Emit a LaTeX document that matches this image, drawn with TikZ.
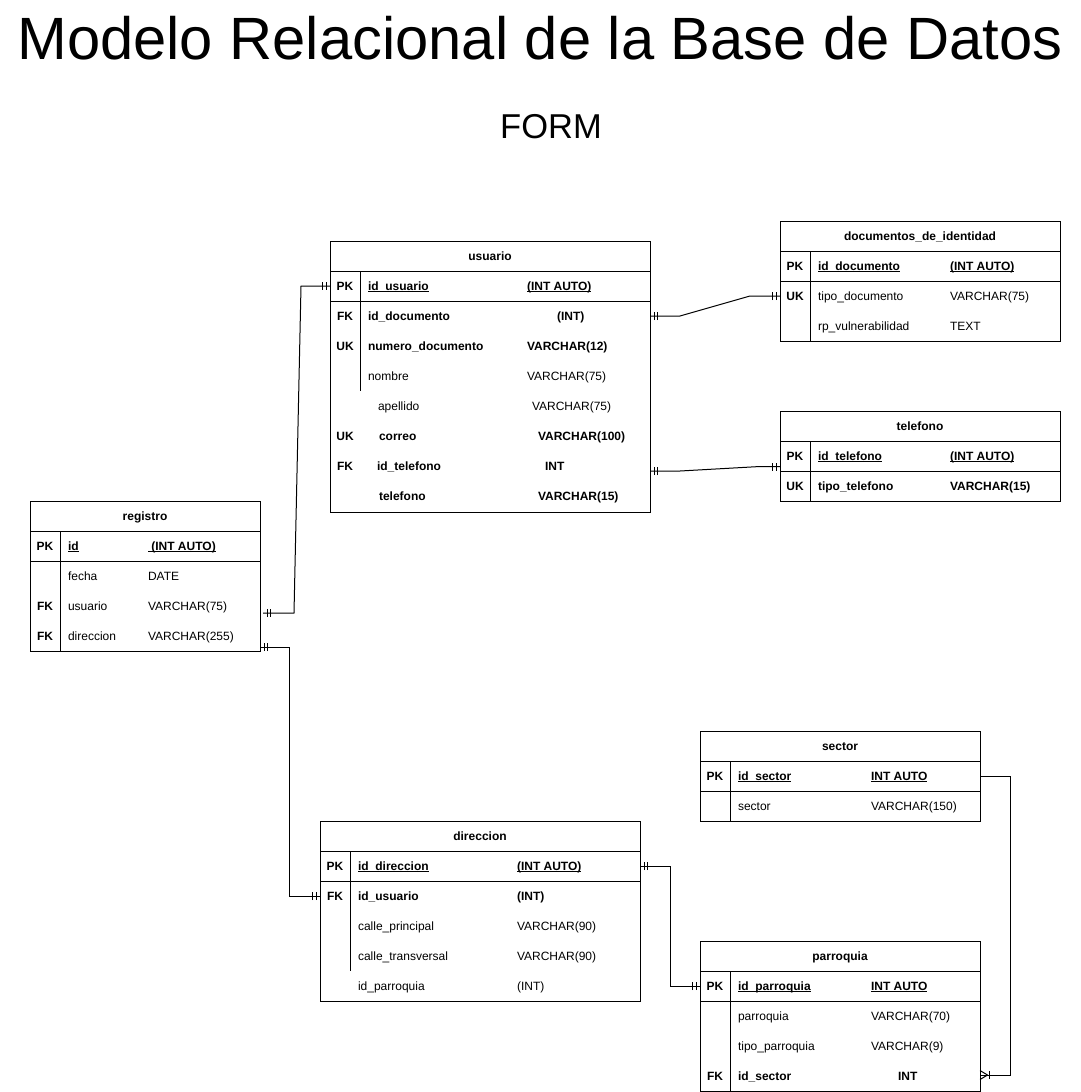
\documentclass[tikz,border=0pt]{standalone}
\usepackage{fontspec}
\setmainfont{Liberation Sans}
\usetikzlibrary{calc,decorations.markings}
\newsavebox\ulbox
\newcommand\ulx[1]{\sbox\ulbox{#1}\rlap{\rule[-2pt]{\wd\ulbox}{0.9pt}}\usebox\ulbox}
\tikzset{
  ln/.style={line width=1pt},
  tbl/.style={draw, line width=1pt, anchor=north west, inner sep=0pt, outer sep=0pt},
  txt/.style={inner sep=0pt, outer sep=0pt, anchor=west, text height=8.6pt, text depth=0pt, font=\fontsize{12}{14}\selectfont},
  b/.style={font=\bfseries\fontsize{12}{14}\selectfont},
  key/.style={txt, anchor=center, b},
  hdr/.style={key},
  mk/.style={line width=1pt, solid},
  rel/.style={line width=1pt},
  one start/.style={postaction={decorate, decoration={markings,
      mark=at position 4pt with {\draw[mk] (0,-4pt) -- (0,4pt);},
      mark=at position 7.5pt with {\draw[mk] (0,-4pt) -- (0,4pt);}}}},
  one end/.style={postaction={decorate, decoration={markings,
      mark=at position -4pt with {\draw[mk] (0,-4pt) -- (0,4pt);},
      mark=at position -7.5pt with {\draw[mk] (0,-4pt) -- (0,4pt);}}}},
  many end/.style={postaction={decorate, decoration={markings,
      mark=at position -9pt with {\draw[mk] (0,-4pt) -- (0,4pt);
        \draw[mk] (1.5pt,0) -- (9pt,4.5pt); \draw[mk] (1.5pt,0) -- (9pt,-4.5pt);}}}}
}
\begin{document}
\begin{tikzpicture}[x=1pt,y=-1pt]
\useasboundingbox (0,0) rectangle (1080,1092);

% titles
\node[inner sep=0pt, anchor=base, font=\fontsize{59.7}{64}\selectfont] (title) at (540,59) {Modelo Relacional de la Base de Datos};
\node[inner sep=0pt, anchor=base, font=\fontsize{34.5}{38}\selectfont] (form) at (551,138) {FORM};

% ---------------- usuario
\node[tbl, minimum width=320pt, minimum height=271pt] (usuario) at (330,241) {};
\draw[ln] (330,271) -- (650,271);
\draw[ln] (330,301) -- (650,301);
\draw[ln] (360,271) -- (360,391);
\node[hdr] (u-h) at (490,256) {usuario};
\node[key] (u-k1) at (345,286) {PK};
\node[txt,b] (u-n1) at (368,286) {\ulx{id\_usuario}};
\node[txt,b] (u-t1) at (527,286) {\ulx{(INT AUTO)}};
\node[key] (u-k2) at (345,316) {FK};
\node[txt,b] (u-n2) at (368,316) {id\_documento};
\node[txt,b] (u-t2) at (557,316) {(INT)};
\node[key] (u-k3) at (345,346) {UK};
\node[txt,b] (u-n3) at (368,346) {numero\_documento};
\node[txt,b] (u-t3) at (527,346) {VARCHAR(12)};
\node[txt] (u-n4) at (368,376) {nombre};
\node[txt] (u-t4) at (527,376) {VARCHAR(75)};
\node[txt] (u-n5) at (378,406) {apellido};
\node[txt] (u-t5) at (532,406) {VARCHAR(75)};
\node[key] (u-k6) at (345,436) {UK};
\node[txt,b] (u-n6) at (379,436) {correo};
\node[txt,b] (u-t6) at (538,436) {VARCHAR(100)};
\node[key] (u-k7) at (345,466) {FK};
\node[txt,b] (u-n7) at (377,466) {id\_telefono};
\node[txt,b] (u-t7) at (545,466) {INT};
\node[txt,b] (u-n8) at (379,496) {telefono};
\node[txt,b] (u-t8) at (538,496) {VARCHAR(15)};

% ---------------- documentos_de_identidad
\node[tbl, minimum width=280pt, minimum height=120pt] (docs) at (780,221) {};
\draw[ln] (780,251) -- (1060,251);
\draw[ln] (780,281) -- (1060,281);
\draw[ln] (810,251) -- (810,341);
\node[hdr] (dc-h) at (920,236) {documentos\_de\_identidad};
\node[key] (dc-k1) at (795,266) {PK};
\node[txt,b] (dc-n1) at (818,266) {\ulx{id\_documento}};
\node[txt,b] (dc-t1) at (950,266) {\ulx{(INT AUTO)}};
\node[key] (dc-k2) at (795,296) {UK};
\node[txt] (dc-n2) at (818,296) {tipo\_documento};
\node[txt] (dc-t2) at (950,296) {VARCHAR(75)};
\node[txt] (dc-n3) at (818,326) {rp\_vulnerabilidad};
\node[txt] (dc-t3) at (950,326) {TEXT};

% ---------------- telefono
\node[tbl, minimum width=280pt, minimum height=90pt] (tel) at (780,411) {};
\draw[ln] (780,441) -- (1060,441);
\draw[ln] (780,471) -- (1060,471);
\draw[ln] (810,441) -- (810,501);
\node[hdr] (t-h) at (920,426) {telefono};
\node[key] (t-k1) at (795,456) {PK};
\node[txt,b] (t-n1) at (818,456) {\ulx{id\_telefono}};
\node[txt,b] (t-t1) at (950,456) {\ulx{(INT AUTO)}};
\node[key] (t-k2) at (795,486) {UK};
\node[txt,b] (t-n2) at (818,486) {tipo\_telefono};
\node[txt,b] (t-t2) at (950,486) {VARCHAR(15)};

% ---------------- registro
\node[tbl, minimum width=230pt, minimum height=150pt] (registro) at (30,501) {};
\draw[ln] (30,531) -- (260,531);
\draw[ln] (30,561) -- (260,561);
\draw[ln] (60,531) -- (60,651);
\node[hdr] (r-h) at (145,516) {registro};
\node[key] (r-k1) at (45,546) {PK};
\node[txt,b] (r-n1) at (68,546) {\ulx{id}};
\node[txt,b] (r-t1) at (148,546) {\ulx{\ (INT AUTO)}};
\node[txt] (r-n2) at (68,576) {fecha};
\node[txt] (r-t2) at (148,576) {DATE};
\node[key] (r-k3) at (45,606) {FK};
\node[txt] (r-n3) at (68,606) {usuario};
\node[txt] (r-t3) at (148,606) {VARCHAR(75)};
\node[key] (r-k4) at (45,636) {FK};
\node[txt] (r-n4) at (68,636) {direccion};
\node[txt] (r-t4) at (148,636) {VARCHAR(255)};

% ---------------- direccion
\node[tbl, minimum width=320pt, minimum height=180pt] (direccion) at (320,821) {};
\draw[ln] (320,851) -- (640,851);
\draw[ln] (320,881) -- (640,881);
\draw[ln] (350,851) -- (350,971);
\node[hdr] (d-h) at (480,836) {direccion};
\node[key] (d-k1) at (335,866) {PK};
\node[txt,b] (d-n1) at (358,866) {\ulx{id\_direccion}};
\node[txt,b] (d-t1) at (517,866) {\ulx{(INT AUTO)}};
\node[key] (d-k2) at (335,896) {FK};
\node[txt,b] (d-n2) at (358,896) {id\_usuario};
\node[txt,b] (d-t2) at (517,896) {(INT)};
\node[txt] (d-n3) at (358,926) {calle\_principal};
\node[txt] (d-t3) at (517,926) {VARCHAR(90)};
\node[txt] (d-n4) at (358,956) {calle\_transversal};
\node[txt] (d-t4) at (517,956) {VARCHAR(90)};
\node[txt] (d-n5) at (358,986) {id\_parroquia};
\node[txt] (d-t5) at (517,986) {(INT)};

% ---------------- sector
\node[tbl, minimum width=280pt, minimum height=90pt] (sector) at (700,731) {};
\draw[ln] (700,761) -- (980,761);
\draw[ln] (700,791) -- (980,791);
\draw[ln] (730,761) -- (730,821);
\node[hdr] (s-h) at (840,746) {sector};
\node[key] (s-k1) at (715,776) {PK};
\node[txt,b] (s-n1) at (738,776) {\ulx{id\_sector}};
\node[txt,b] (s-t1) at (871,776) {\ulx{INT AUTO}};
\node[txt] (s-n2) at (738,806) {sector};
\node[txt] (s-t2) at (871,806) {VARCHAR(150)};

% ---------------- parroquia
\node[tbl, minimum width=280pt, minimum height=150pt] (parroquia) at (700,941) {};
\draw[ln] (700,971) -- (980,971);
\draw[ln] (700,1001) -- (980,1001);
\draw[ln] (730,971) -- (730,1091);
\node[hdr] (p-h) at (840,956) {parroquia};
\node[key] (p-k1) at (715,986) {PK};
\node[txt,b] (p-n1) at (738,986) {\ulx{id\_parroquia}};
\node[txt,b] (p-t1) at (871,986) {\ulx{INT AUTO}};
\node[txt] (p-n2) at (738,1016) {parroquia};
\node[txt] (p-t2) at (871,1016) {VARCHAR(70)};
\node[txt] (p-n3) at (738,1046) {tipo\_parroquia};
\node[txt] (p-t3) at (871,1046) {VARCHAR(9)};
\node[key] (p-k4) at (715,1076) {FK};
\node[txt,b] (p-n4) at (738,1076) {id\_sector};
\node[txt,b] (p-t4) at (898,1076) {INT};

% ---------------- connectors
\draw[rel, one start, one end] (usuario.west |- u-k1.center) -- ++(-29,0)
  -- ($(registro.east |- r-n3.center)+(34,7)$) -- ($(registro.east |- r-n3.center)+(3,7)$);
\draw[rel, one start, one end] ($(registro.east |- r-n4.center)+(0,11)$) -- ++(29,0)
  |- (direccion.west |- d-n2.center);
\draw[rel, one start, one end] (usuario.east |- u-n2.center) -- ++(30,0)
  -- ($(docs.west |- dc-n2.center)+(-30,0)$) -- (docs.west |- dc-n2.center);
\draw[rel, one start, one end] ($(usuario.east |- u-n7.center)+(0,5)$) -- ++(30,0)
  -- ($(tel.west |- t-k1.center)+(-20,10.5)$) -- ($(tel.west |- t-k1.center)+(0,10.5)$);
\draw[rel, one start, one end] (direccion.east |- d-k1.center) -- ++(30,0)
  |- (parroquia.west |- p-k1.center);
\draw[rel, many end] (sector.east |- s-k1.center) -- ++(30,0)
  |- ($(parroquia.east |- p-k4.center)+(0,-1)$);
\end{tikzpicture}
\end{document}
